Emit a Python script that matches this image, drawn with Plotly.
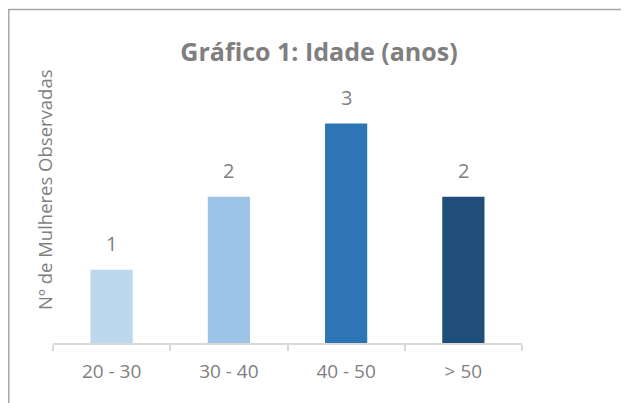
import plotly.graph_objects as go

categories = ["20 - 30", "30 - 40", "40 - 50", "> 50"]
values = [1, 2, 3, 2]
bar_colors = ["#BDD7EE", "#9DC3E6", "#2E75B6", "#1F4E79"]

# the page draws the figure 8px in from the top-left corner (body margin)
W, H = 629, 403
ml, mr, mt, mb = 45, 115, 79, 68
pw, ph = W - ml - mr, H - mt - mb
grey = "#7F7F7F"

fig = go.Figure()
fig.add_trace(go.Bar(x=categories, y=values, marker=dict(color=bar_colors, line=dict(width=0)),
                     hoverinfo="x+y"))

# value labels above the bars
for c, v in zip(categories, values):
    fig.add_annotation(x=c, y=v, text=str(v), showarrow=False, yanchor="middle", yshift=26,
                       font=dict(size=20, color=grey))

fig.update_layout(
    width=W, height=H,
    margin=dict(l=ml, r=mr, t=mt, b=mb, autoexpand=False),
    paper_bgcolor="white", plot_bgcolor="white",
    font=dict(family="Open Sans", color=grey),
    bargap=0.64,
    showlegend=False,
    title=dict(text="<b>Gráfico 1: Idade (anos)</b>", x=311 / W, xanchor="center",
               y=1 - 44 / H, yanchor="middle", font=dict(size=25, color=grey)),
)
fig.update_xaxes(showline=True, linecolor="#D9D9D9", linewidth=1.5, ticks="outside",
                 tickson="boundaries", tickcolor="#D9D9D9", ticklen=6, tickwidth=1.5,
                 ticklabelstandoff=10, automargin=False,
                 tickfont=dict(size=19, color=grey), showgrid=False)
fig.update_yaxes(range=[0, 3.5], showticklabels=False, showgrid=False, zeroline=False,
                 automargin=False)

# y axis title
fig.add_annotation(text="Nº de Mulheres Observadas", textangle=-90, showarrow=False,
                   xref="paper", yref="paper", x=(36 - ml) / pw, y=(H - mb - 182) / ph,
                   xanchor="center", yanchor="middle", font=dict(size=18.5, color=grey))

# outer frame of the chart area (right and bottom edges fall outside the picture)
fig.add_shape(type="rect", xref="paper", yref="paper",
              x0=(0.8 - ml) / pw, x1=(W + 20 - ml) / pw,
              y0=-(mb + 20) / ph, y1=(H - mb - 1.5) / ph,
              line=dict(color="#A6A6A6", width=1.5), fillcolor="rgba(0,0,0,0)")

fig.write_html("out.html")
